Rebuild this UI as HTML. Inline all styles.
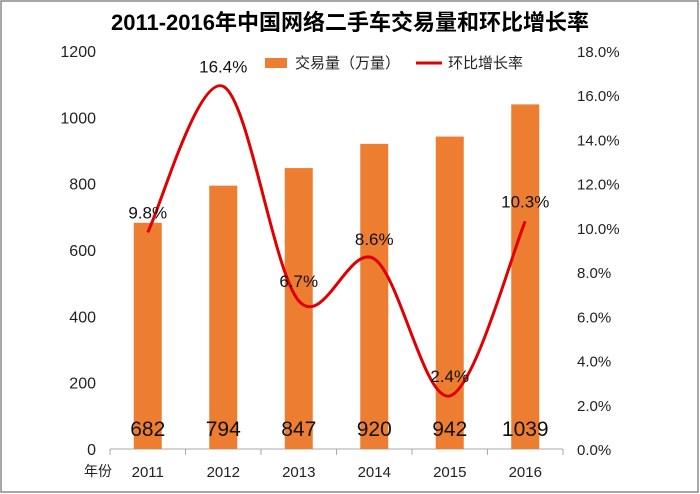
<!DOCTYPE html>
<html><head><meta charset="utf-8"><style>
html,body{margin:0;padding:0;background:#fff}
svg{display:block;font-family:"Liberation Sans","Noto Sans CJK SC",sans-serif}
</style></head><body>
<svg id="chart" width="700" height="494" viewBox="0 0 700 494">
<rect x="1" y="1" width="697" height="491" fill="#fff" stroke="#8a8a8a" stroke-width="1.5"/>
<text x="350" y="30" text-anchor="middle" font-size="22" font-weight="bold" fill="#000">2011-2016年中国网络二手车交易量和环比增长率</text>
<g>
<rect x="265" y="58" width="22" height="10" fill="#ed7d31"/>
<text x="295" y="68" font-size="15" fill="#222">交易量（万量）</text>
<line x1="416" y1="63" x2="442" y2="63" stroke="#e00000" stroke-width="3"/>
<text x="448" y="68" font-size="15" fill="#222">环比增长率</text>
</g>
<g id="axes"></g>
<g id="bars"></g>
<g id="line"></g>
</svg>
<script>
const categories = ["2011","2012","2013","2014","2015","2016"];
const volumes = [682,794,847,920,942,1039];
const growth = [9.8,16.4,6.7,8.6,2.4,10.3];
const leftTicks = [0,200,400,600,800,1000,1200];
const rightTicks = [0,2,4,6,8,10,12,14,16,18];

const NS="http://www.w3.org/2000/svg";
const x0=110,x1=563,yb=449,yt=51;
const band=(x1-x0)/categories.length;
const xC=i=>x0+band*(i+0.5);
const yL=v=>yb-(v/1200)*(yb-yt);
const yR=v=>yb-(v/18)*(yb-yt);
function mk(tag,attrs,parent,text){const e=document.createElementNS(NS,tag);for(const k in attrs)e.setAttribute(k,attrs[k]);if(text!=null)e.textContent=text;parent.appendChild(e);return e;}
const axes=document.getElementById('axes'),bars=document.getElementById('bars'),line=document.getElementById('line');

leftTicks.forEach(t=>{
 const e=mk('text',{x:96,y:yL(t)+6,'text-anchor':'end','font-size':16,fill:'#222'},axes,String(t));
 
 
});
rightTicks.forEach(t=>{
 const e=mk('text',{x:577,y:yR(t)+6,'font-size':15,fill:'#222'},axes,t.toFixed(1)+'%');
 
 
});
const ax=mk('line',{x1:x0,y1:yb,x2:x1,y2:yb,stroke:'#aaa','stroke-width':1},axes);


for(let i=0;i<=categories.length;i++){
 const tk=mk('line',{x1:x0+band*i,y1:yb,x2:x0+band*i,y2:yb+6,stroke:'#aaa'},axes);
 
 
}
const yf=mk('text',{x:84,y:476,'font-size':14,fill:'#222'},axes,'年份');


categories.forEach((c,i)=>{
 const e=mk('text',{x:xC(i),y:477,'text-anchor':'middle','font-size':15,fill:'#222'},axes,c);
 
 
});
const bw=28;
volumes.forEach((v,i)=>{
 const r=mk('rect',{x:xC(i)-bw/2,y:yL(v),width:bw,height:yb-yL(v),fill:'#ed7d31'},bars);
 
 
 const t=mk('text',{x:xC(i),y:436,'text-anchor':'middle','font-size':21,fill:'#111'},bars,String(v));
 
 
});
const pts=growth.map((g,i)=>[xC(i),yR(g)]);
let d='M'+pts[0][0]+','+pts[0][1];
for(let i=0;i<pts.length-1;i++){
 const p0=pts[Math.max(0,i-1)],p1=pts[i],p2=pts[i+1],p3=pts[Math.min(pts.length-1,i+2)];
 const c1=[p1[0]+(p2[0]-p0[0])/6,p1[1]+(p2[1]-p0[1])/6];
 const c2=[p2[0]-(p3[0]-p1[0])/6,p2[1]-(p3[1]-p1[1])/6];
 d+=' C'+c1+' '+c2+' '+p2;
}
const pth=mk('path',{d:d,fill:'none',stroke:'#e00000','stroke-width':3},line);


growth.forEach((g,i)=>{
 const t=mk('text',{x:xC(i),y:yR(g)-14,'text-anchor':'middle','font-size':17,fill:'#111'},line,g.toFixed(1)+'%');
 
 
});
</script>
</body></html>
